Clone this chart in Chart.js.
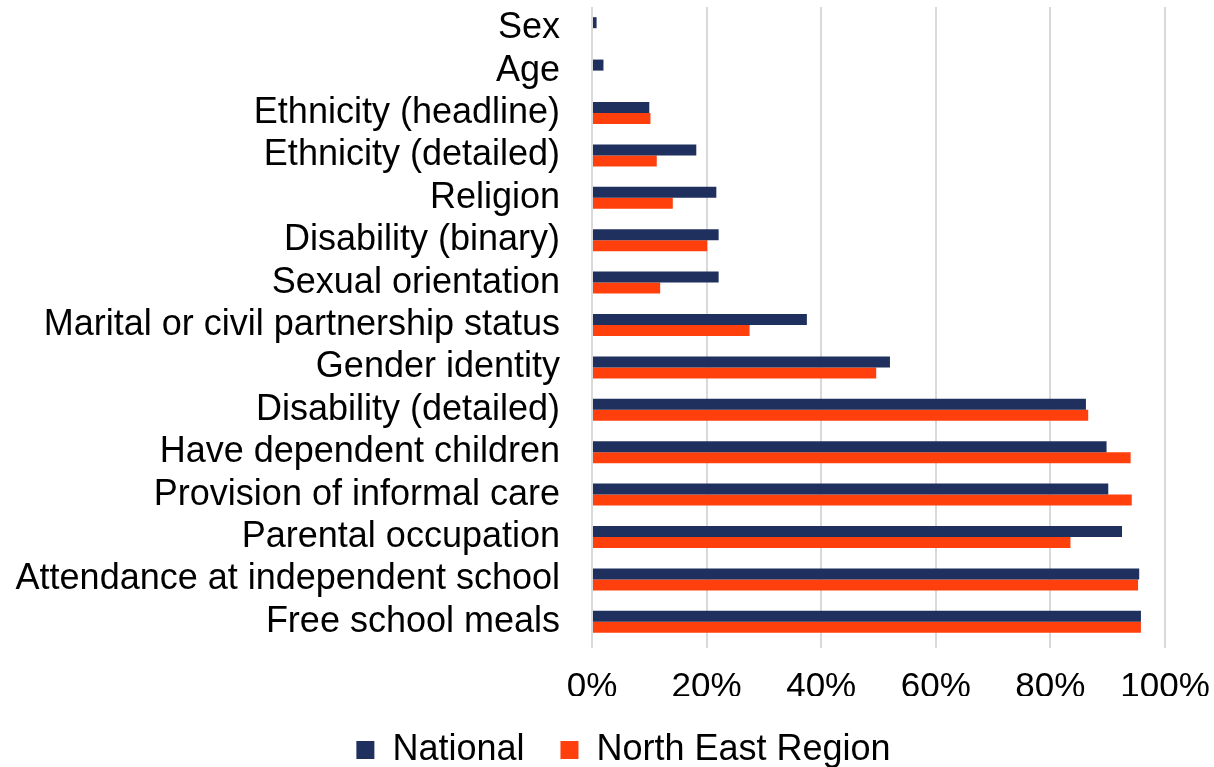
<!DOCTYPE html>
<html>
<head>
<meta charset="utf-8">
<script src="https://cdn.jsdelivr.net/npm/chart.js@4"></script>
<style>
  html, body { margin: 0; padding: 0; background: #fff; }
  #wrap { width: 1214px; height: 767px; }
</style>
</head>
<body>
<div id="wrap"><canvas id="barChart"></canvas></div>
<script>
// categories, top to bottom
const categories = [
  'Sex', 'Age', 'Ethnicity (headline)', 'Ethnicity (detailed)', 'Religion',
  'Disability (binary)', 'Sexual orientation', 'Marital or civil partnership status',
  'Gender identity', 'Disability (detailed)', 'Have dependent children',
  'Provision of informal care', 'Parental occupation',
  'Attendance at independent school', 'Free school meals'
];

// percentages per category
const national = [0.8, 2.0, 10.0, 18.2, 21.7, 22.1, 22.1, 37.5, 52.0, 86.2, 89.8, 90.1, 92.5, 95.5, 95.8];
const northEast = [0, 0, 10.2, 11.3, 14.1, 20.1, 11.9, 27.5, 49.6, 86.6, 94.0, 94.2, 83.5, 95.3, 95.8];

const xTicks = [0, 20, 40, 60, 80, 100];

const fontFamily = 'Liberation Sans, Arial, sans-serif';
const labelFont = { family: fontFamily, size: 36 };
const tickFont = { family: fontFamily, size: 35 };

const barData = {
  labels: categories,
  datasets: [
    { label: 'National', data: national, backgroundColor: '#1F305E' },
    { label: 'North East Region', data: northEast, backgroundColor: '#FF400C' },
  ],
};

// fixed legend height, and nudge the legend right a little
const legendTweaks = {
  id: 'legendTweaks',
  afterInit(chart) {
    const legend = chart.legend;
    const fit = legend.fit;
    legend.fit = function () {
      fit.call(this);
      this.height = 71;
    };
  },
  afterLayout(chart) {
    chart.legend.left += 35;
    chart.legend.right += 35;
  },
};

const barConfig = {
  type: 'bar',
  data: barData,
  plugins: [legendTweaks],
  options: {
    indexAxis: 'y',
    responsive: true,
    maintainAspectRatio: false,
    animation: false,
    categoryPercentage: 0.52,
    barPercentage: 1,
    layout: { padding: { top: 7, left: 12, right: 49, bottom: 0 } },
    scales: {
      x: {
        min: 0,
        max: 100,
        afterBuildTicks: (scale) => { scale.ticks = xTicks.map(v => ({ value: v })); },
        afterFit: (scale) => {
          scale.height = 53;
          scale.paddingLeft = 0;
          scale.paddingRight = 0;
        },
        grid: { color: '#D9D9D9', lineWidth: 2, tickLength: 5 },
        border: { display: false },
        ticks: { font: tickFont, color: '#000', padding: 18, callback: v => v + '%' },
      },
      y: {
        afterFit: (scale) => {
          scale.width = 580;
          scale.paddingTop = 0;
          scale.paddingBottom = 0;
        },
        grid: { display: false, drawTicks: false },
        border: { display: false },
        ticks: { font: labelFont, color: '#000', padding: 32, autoSkip: false },
      },
    },
    plugins: {
      tooltip: { enabled: false },
      legend: {
        position: 'bottom',
        labels: { font: labelFont, color: '#000', boxWidth: 18, boxHeight: 18, padding: 36 },
      },
    },
  },
};

new Chart(document.getElementById('barChart'), barConfig);
</script>
</body>
</html>
